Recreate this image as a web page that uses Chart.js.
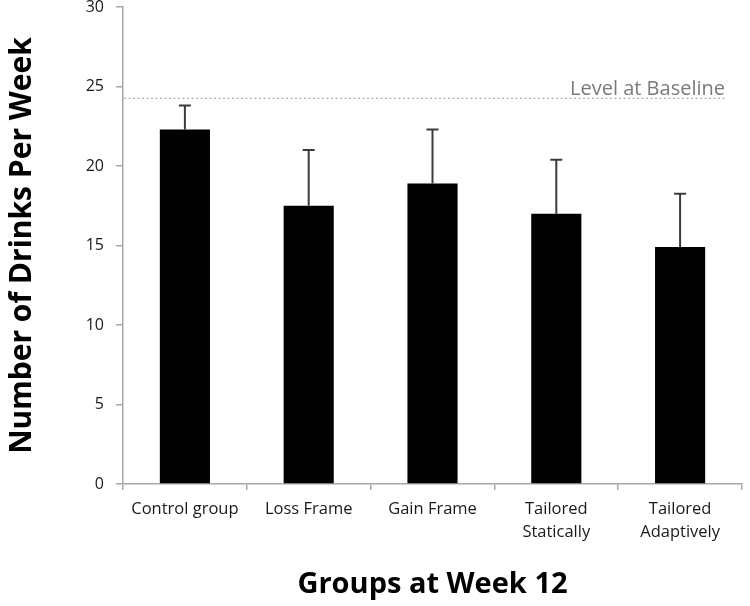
<!DOCTYPE html>
<html>
<head>
<meta charset="utf-8">
<script src="https://cdn.jsdelivr.net/npm/chart.js@4/dist/chart.umd.min.js"></script>
<style>
html,body{margin:0;padding:0;background:#fff;}
#wrap{width:750px;height:606px;}
</style>
</head>
<body>
<div id="wrap"><canvas id="c" width="750" height="606"></canvas></div>
<script>
const categories = [["Control group"], ["Loss Frame"], ["Gain Frame"], ["Tailored", "Statically"], ["Tailored", "Adaptively"]];
const meanDrinks = [22.3, 17.5, 18.9, 17.0, 14.9];
const errorTop = [23.8, 21.0, 22.3, 20.4, 18.25];
const baselineLevel = 24.25;
const baselineLabel = "Level at Baseline";
const yTicks = [0, 5, 10, 15, 20, 25, 30];

const FONT = "'Open Sans', 'Liberation Sans', sans-serif";

const extras = {
  id: 'extras',
  afterDatasetsDraw(chart) {
    const ctx = chart.ctx;
    const y = chart.scales.y;
    const meta = chart.getDatasetMeta(0);
    ctx.save();
    const by = y.getPixelForValue(baselineLevel);
    ctx.strokeStyle = '#b0b0b0';
    ctx.lineWidth = 1.2;
    ctx.setLineDash([2, 2.5]);
    ctx.beginPath();
    ctx.moveTo(chart.chartArea.left + 1, by);
    ctx.lineTo(chart.chartArea.right - 17, by);
    ctx.stroke();
    ctx.setLineDash([]);
    ctx.fillStyle = '#7a7a7a';
    ctx.font = "20px " + FONT;
    ctx.textAlign = 'right';
    ctx.textBaseline = 'alphabetic';
    ctx.fillText(baselineLabel, chart.chartArea.right - 17, by - 3);
    ctx.strokeStyle = '#3c3c3c';
    ctx.lineWidth = 2;
    meta.data.forEach((bar, i) => {
      const x = bar.x;
      const yt = y.getPixelForValue(errorTop[i]);
      ctx.beginPath();
      ctx.moveTo(x, bar.y);
      ctx.lineTo(x, yt);
      ctx.moveTo(x - 6, yt);
      ctx.lineTo(x + 6, yt);
      ctx.stroke();
    });
    ctx.restore();
  }
};

new Chart(document.getElementById('c'), {
  type: 'bar',
  data: {
    labels: categories,
    datasets: [{
      data: meanDrinks,
      backgroundColor: '#000000',
      borderWidth: 0,
      categoryPercentage: 1.0,
      barPercentage: 0.405
    }]
  },
  options: {
    responsive: false,
    animation: false,
    devicePixelRatio: 1,
    layout: { padding: { top: 0, right: 8, left: 0, bottom: 0 } },
    plugins: { legend: { display: false }, tooltip: { enabled: false } },
    scales: {
      x: {
        grid: { display: true, offset: true, drawOnChartArea: false, drawTicks: true, tickLength: 6, color: '#a8a8a8', lineWidth: 1.5 },
        border: { display: true, color: '#a8a8a8', width: 1.5 },
        ticks: { color: '#1a1a1a', font: { family: FONT, size: 16.5, lineHeight: 1.4 }, padding: 8, maxRotation: 0, autoSkip: false },
        title: { display: true, text: 'Groups at Week 12', color: '#000', font: { family: FONT, size: 29, weight: 'bold' }, padding: { top: 22 } },
        afterFit(s) { s.height = 122; }
      },
      y: {
        min: 0, max: 30,
        afterBuildTicks(s) { s.ticks = yTicks.map(v => ({ value: v })); },
        grid: { display: true, drawOnChartArea: false, drawTicks: true, tickLength: 7, color: '#a8a8a8', lineWidth: 1.5 },
        border: { display: true, color: '#a8a8a8', width: 1.5 },
        ticks: { color: '#1a1a1a', font: { family: FONT, size: 16 }, padding: 12 },
        title: { display: true, text: 'Number of Drinks Per Week', color: '#000', font: { family: FONT, size: 30, weight: 'bold' }, padding: { bottom: 14 } },
        afterFit(s) { s.width = 123; s.paddingTop = 7; s.paddingBottom = 0; }
      }
    }
  },
  plugins: [extras]
});
</script>
</body>
</html>
